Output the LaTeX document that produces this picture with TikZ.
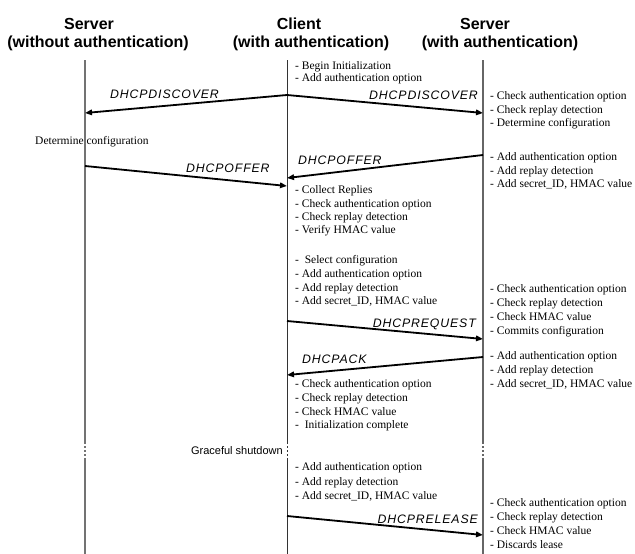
\documentclass[tikz,border=0pt]{standalone}
\usepackage{fontspec}
\setmainfont{Liberation Serif}
\newfontfamily\arialf{Liberation Sans}
\newfontfamily\msgf[LetterSpace=7]{Liberation Sans}
\usetikzlibrary{arrows.meta}
\newcommand\txtgroup[5]{%
  \foreach \t [count=\i] in {#5} {\node[txt] (#1-\i) at (#2, {#3+(\i-1)*#4}) {\t};}}
\begin{document}
\begin{tikzpicture}[x=1pt,y=-1pt,
  txt/.style={anchor=west, inner sep=0pt, font=\fontsize{11.5}{13}\selectfont, text height=8pt, text depth=2.5pt},
  hdr/.style={inner sep=0pt, anchor=base, font=\arialf\bfseries\fontsize{16}{18}\selectfont},
  msg/.style={inner sep=0pt, font=\msgf\itshape\fontsize{12.3}{14}\selectfont, text height=8.8pt, text depth=0pt},
  lifeL/.style={draw=black!55, line width=2pt},
  lifeC/.style={draw=black!80, line width=1pt},
  lifeR/.style={draw=black!60, line width=1.5pt},
  brk/.style={dash pattern=on 2pt off 2pt},
  arr/.style={line width=1.8pt, -{Triangle[length=7pt,width=5.5pt]}}]
\useasboundingbox (0,0) rectangle (635,554);

% headers
\node[hdr] (h1a) at (89,29) {Server};
\node[hdr] (h1b) at (98,47) {(without authentication)};
\node[hdr] (h2a) at (299,29) {Client};
\node[hdr] (h2b) at (311,47) {(with authentication)};
\node[hdr] (h3a) at (485,29) {Server};
\node[hdr] (h3b) at (500,47) {(with authentication)};

% lifelines
\foreach \n/\x/\s in {L/85/lifeL, C/287/lifeC, R/483/lifeR} {
  \coordinate (\n t) at (\x,60);
  \coordinate (\n d1) at (\x,442);
  \coordinate (\n d2) at (\x,460);
  \coordinate (\n b) at (\x,554);
  \draw[\s] (\n t) -- (\n d1);
  \draw[\s,brk] (\n d1) -- (\n d2);
  \draw[\s] (\n d2) -- (\n b);
}

% message end points
\coordinate (dS) at (287,95);
\coordinate (dL) at (85,113);
\coordinate (dR) at (483,113);
\coordinate (oL) at (85,166);
\coordinate (oLe) at (287,186);
\coordinate (oR) at (483,155);
\coordinate (oRe) at (287,178);
\coordinate (rqS) at (287,321);
\coordinate (rqE) at (483,339);
\coordinate (akS) at (483,357);
\coordinate (akE) at (287,375);
\coordinate (rlS) at (287,516);
\coordinate (rlE) at (483,535);

\draw[arr] (dS) -- (dL);
\draw[arr] (dS) -- (dR);
\draw[arr] (oL) -- (oLe);
\draw[arr] (oR) -- (oRe);
\draw[arr] (rqS) -- (rqE);
\draw[arr] (akS) -- (akE);
\draw[arr] (rlS) -- (rlE);

% message labels
\node[msg,anchor=west] (m1) at (110,94) {DHCPDISCOVER};
\node[msg,anchor=east] (m2) at (478,95) {DHCPDISCOVER};
\node[msg,anchor=west] (m3) at (186,168) {DHCPOFFER};
\node[msg,anchor=west] (m4) at (298,160) {DHCPOFFER};
\node[msg,anchor=east] (m5) at (476,323) {DHCPREQUEST};
\node[msg,anchor=west] (m6) at (302,359) {DHCPACK};
\node[msg,anchor=east] (m7) at (478,519) {DHCPRELEASE};

% text groups
\txtgroup{g1}{295}{67}{12}{- Begin Initialization, - Add authentication option}
\txtgroup{g2}{490}{97}{13.5}{- Check authentication option, - Check replay detection, - Determine configuration}
\node[txt] (g3) at (35,142) {Determine configuration};
\txtgroup{g4}{490}{158}{13.6}{- Add authentication option, - Add replay detection, {- Add secret\_ID, HMAC value}}
\txtgroup{g5}{295}{191}{13.4}{- Collect Replies, - Check authentication option, - Check replay detection, - Verify HMAC value}
\txtgroup{g6}{295}{261}{13.7}{-\ \ Select configuration, - Add authentication option, - Add replay detection, {- Add secret\_ID, HMAC value}}
\txtgroup{g7}{490}{290}{14}{- Check authentication option, - Check replay detection, - Check HMAC value, - Commits configuration}
\txtgroup{g8}{490}{357}{13.8}{- Add authentication option, - Add replay detection, {- Add secret\_ID, HMAC value}}
\txtgroup{g9}{295}{385}{13.7}{- Check authentication option, - Check replay detection, - Check HMAC value, -\ \ Initialization complete}
\node[inner sep=0pt, anchor=east, font=\arialf\fontsize{11}{13}\selectfont] (g10) at (283,451) {Graceful shutdown};
\txtgroup{g11}{295}{468}{14.5}{- Add authentication option, - Add replay detection, {- Add secret\_ID, HMAC value}}
\txtgroup{g12}{490}{504}{14}{- Check authentication option, - Check replay detection, - Check HMAC value, - Discards lease}
\end{tikzpicture}
\end{document}
